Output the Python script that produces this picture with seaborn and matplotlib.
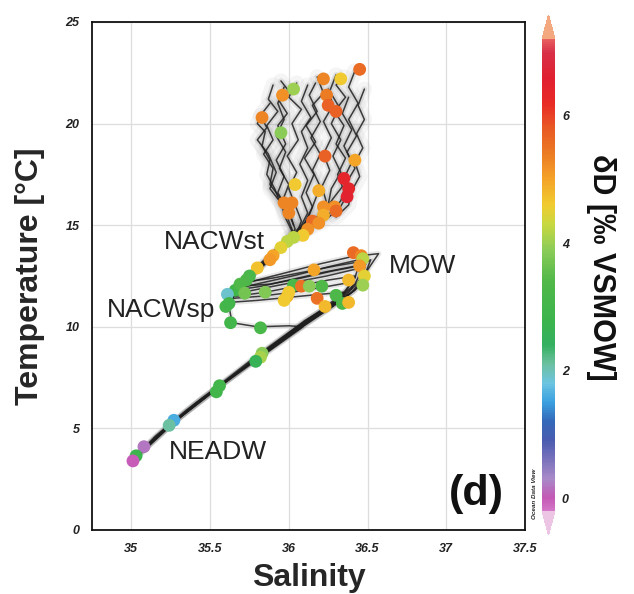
import numpy as np
import pandas as pd
import matplotlib
matplotlib.use("Agg")
import matplotlib.pyplot as plt
import seaborn as sns
from matplotlib.colors import LinearSegmentedColormap, Normalize
from matplotlib.cm import ScalarMappable

# ---------------- data ----------------
# CTD profiles (salinity, temperature), surface -> bottom
prof_01 = [(35.90,21.9),(35.87,21.2),(35.93,20.6),(35.86,19.9),(35.90,19.2),(35.84,18.5),(35.90,17.8),(35.88,17.0),
           (35.95,16.3),(35.97,15.5),(36.02,14.7),(35.95,14.0),(35.85,13.2),(35.75,12.4),(35.66,11.7),(35.62,11.0),
           (35.64,10.2),(35.80,10.0),(36.00,10.05),(36.09,10.0),(35.82,8.5),(35.55,7.0),(35.27,5.3),(35.02,3.5)]
prof_02 = [(36.05,22.0),(36.00,21.3),(36.08,20.7),(36.02,20.0),(36.06,19.2),(35.99,18.4),(36.05,17.6),(36.00,16.8),
           (36.04,16.0),(36.08,15.2),(36.05,14.6),(35.98,14.0),(35.88,13.3),(35.78,12.6),(35.70,12.1),(35.80,12.3),
           (36.00,12.7),(36.20,13.1),(36.40,13.45),(36.57,13.6),(36.50,12.8),(36.45,12.0),(36.35,11.4),(36.20,10.6),
           (36.05,9.8),(35.85,8.7),(35.60,7.3),(35.35,5.9),(35.15,4.6),(35.02,3.5)]
prof_03 = [(36.18,22.3),(36.22,21.5),(36.15,20.9),(36.20,20.1),(36.14,19.3),(36.20,18.5),(36.15,17.7),(36.20,16.9),
           (36.16,16.1),(36.12,15.3),(36.06,14.7),(35.97,14.1),(35.86,13.3),(35.76,12.5),(35.68,11.9),(35.85,12.2),
           (36.05,12.55),(36.25,12.95),(36.50,13.4),(36.47,12.6),(36.42,11.8),(36.28,11.0),(36.10,10.1),(35.85,8.8),
           (35.58,7.2),(35.30,5.5),(35.05,3.7)]
prof_04 = [(36.30,22.4),(36.26,21.6),(36.32,20.8),(36.27,20.0),(36.33,19.2),(36.28,18.4),(36.33,17.6),(36.27,16.8),
           (36.25,16.0),(36.18,15.3),(36.10,14.8),(36.00,14.3),(35.90,13.6),(35.80,12.8),(35.72,12.2),(35.90,12.4),
           (36.10,12.7),(36.30,13.0),(36.45,13.2),(36.42,12.4),(36.35,11.7),(36.22,10.9),(36.05,10.0),(35.80,8.6),
           (35.52,6.9),(35.25,5.2),(35.00,3.4)]
prof_05 = [(36.42,22.6),(36.38,21.8),(36.44,21.0),(36.38,20.2),(36.43,19.4),(36.37,18.6),(36.42,17.8),(36.36,17.0),
           (36.33,16.2),(36.25,15.5),(36.15,15.0),(36.05,14.5),(35.95,13.9),(35.83,13.0),(35.74,12.3),(35.66,11.5),
           (35.85,11.7),(36.05,12.0),(36.25,12.3),(36.42,12.5),(36.40,11.9),(36.30,11.2),(36.15,10.5),(35.95,9.4),
           (35.70,7.9),(35.45,6.5),(35.20,4.9),(35.03,3.6)]
prof_06 = [(35.82,20.4),(35.86,19.8),(35.80,19.2),(35.87,18.5),(35.92,17.6),(35.88,16.8),(35.96,16.0),(36.00,15.2),
           (36.03,14.6),(35.95,13.9),(35.84,13.1),(35.73,12.3),(35.64,11.4),(35.82,11.5),(36.02,11.7),(36.22,11.95),
           (36.40,12.2),(36.35,11.6),(36.25,11.0),(36.10,10.3),(35.90,9.1),(35.65,7.6),(35.40,6.2),(35.12,4.3),(35.00,3.5)]
prof_07 = [(36.12,21.9),(36.08,21.1),(36.14,20.3),(36.08,19.6),(36.12,18.8),(36.07,18.0),(36.12,17.2),(36.08,16.4),
           (36.12,15.6),(36.08,15.0),(36.02,14.5),(35.93,13.8),(35.82,13.0),(35.72,12.3),(35.66,11.8),(35.83,12.0),
           (36.03,12.35),(36.23,12.7),(36.43,13.0),(36.48,13.5),(36.47,12.9),(36.42,12.1),(36.30,11.3),(36.12,10.3),
           (35.88,9.0),(35.62,7.4),(35.35,5.8),(35.10,4.2),(35.00,3.5)]
prof_08 = [(36.38,21.3),(36.34,20.5),(36.40,19.7),(36.35,18.9),(36.40,18.1),(36.35,17.3),(36.38,16.6),(36.32,15.8),
           (36.22,15.2),(36.12,14.8),(36.03,14.4),(35.93,13.7),(35.82,12.9),(35.70,12.0),(35.62,11.2),(35.80,11.3),
           (36.00,11.45),(36.20,11.6),(36.35,11.7),(36.30,11.2),(36.18,10.6),(36.00,9.6),(35.75,8.2),(35.50,6.7),
           (35.22,5.0),(35.00,3.5)]
prof_09 = [(35.97,21.8),(35.93,21.0),(35.97,20.2),(35.92,19.4),(35.98,18.6),(35.94,17.8),(36.00,17.0),(35.96,16.2),
           (36.01,15.5),(36.04,14.8),(35.98,14.1),(35.87,13.4),(35.77,12.7),(35.69,12.0),(35.88,12.1),(36.08,12.4),
           (36.28,12.75),(36.45,13.0),(36.52,13.3),(36.48,12.5),(36.40,11.7),(36.25,10.9),(36.08,10.0),(35.82,8.6),
           (35.56,7.1),(35.28,5.4),(35.02,3.5)]
prof_10 = [(36.25,21.7),(36.28,20.9),(36.22,20.1),(36.27,19.3),(36.22,18.5),(36.26,17.7),(36.21,16.9),(36.24,16.1),
           (36.18,15.4),(36.10,14.9),(36.00,14.4),(35.90,13.7),(35.79,12.9),(35.71,12.3),(35.64,11.6),(35.84,11.9),
           (36.04,12.2),(36.24,12.5),(36.46,12.9),(36.45,12.3),(36.37,11.6),(36.23,10.8),(36.06,9.9),(35.82,8.6),
           (35.55,7.0),(35.27,5.3),(35.00,3.4)]
# upper-layer only profiles
prof_11 = [(35.95,22.1),(36.00,21.6),(35.94,21.1),(35.99,20.5),(35.93,19.9),(35.98,19.0),(35.92,18.2),(35.97,17.4),
           (35.93,16.6),(35.99,15.8),(36.03,15.0)]
prof_12 = [(36.35,22.3),(36.30,21.9),(36.36,21.3),(36.29,20.6),(36.35,19.9),(36.30,19.0),(36.36,18.3),(36.31,17.5),
           (36.34,16.9),(36.28,16.3),(36.22,15.6),(36.14,15.1)]
prof_13 = [(35.88,21.0),(35.84,20.6),(35.80,20.0),(35.85,19.6),(35.83,18.9),(35.88,18.2),(35.86,17.5),(35.91,16.8),
           (35.94,16.2),(35.98,15.6)]
prof_14 = [(36.48,21.7),(36.44,20.9),(36.48,20.2),(36.43,19.5),(36.47,18.8),(36.42,18.1),(36.45,17.4),(36.40,16.7),
           (36.38,16.0),(36.30,15.4)]
prof_15 = [(36.17,22.0),(36.13,21.4),(36.18,20.6),(36.11,19.9),(36.17,19.1),(36.10,18.3),(36.16,17.5),(36.11,16.6),
           (36.15,15.9),(36.10,15.1),(36.05,14.6)]

# bottle samples: salinity, temperature, deltaD
pt_sal = [36.45,36.22,36.33,36.03,35.96,36.24,36.25,36.30,35.83,35.95,36.23,36.42,36.35,36.38,36.37,36.04,36.19,
          35.97,36.02,36.00,36.22,36.29,36.30,36.22,36.15,36.19,36.12,36.09,36.03,35.99,35.95,35.90,35.88,35.80,
          35.75,35.73,35.66,
          36.41,36.46,36.47,36.45,36.16,36.38,36.48,36.47,
          35.69,35.61,35.72,35.85,36.03,36.08,36.13,36.21,35.99,36.18,36.23,36.30,36.34,36.38,35.60,35.62,35.63,
          35.82,36.00,35.97,
          35.83,35.82,35.79,35.56,35.54,35.27,35.24,35.08,35.03,35.01]
pt_temp = [22.67,22.2,22.2,21.7,21.4,21.4,20.9,20.6,20.3,19.55,18.4,18.2,17.3,16.8,16.4,17.0,16.7,
           16.1,16.1,15.6,15.9,15.9,15.7,15.5,15.2,15.1,14.8,14.5,14.4,14.2,13.9,13.5,13.3,12.9,
           12.5,12.3,11.8,
           13.65,13.5,13.35,13.0,12.8,12.3,12.5,12.05,
           12.1,11.6,11.65,11.7,12.05,12.0,12.0,12.0,11.5,11.4,11.0,11.55,11.15,11.2,11.0,11.15,10.2,
           9.95,11.7,11.3,
           8.7,8.5,8.3,7.1,6.8,5.4,5.15,4.1,3.65,3.4]
pt_dD = [5.6,5.3,4.6,4.0,5.2,5.4,5.7,5.7,5.3,3.9,5.7,5.0,6.4,6.4,6.5,4.6,4.9,
         5.3,5.3,5.3,5.2,5.2,5.6,4.9,5.6,5.2,5.2,4.6,4.2,4.2,4.5,5.0,5.1,4.7,
         3.2,3.3,3.0,
         5.6,5.3,4.2,5.1,5.0,4.8,4.5,4.0,
         3.4,1.9,3.7,3.8,3.2,5.5,3.9,3.4,4.8,5.5,4.8,3.3,3.3,4.8,3.1,3.0,3.0,
         3.2,4.6,4.6,
         3.9,4.1,2.6,3.0,3.0,1.6,2.1,0.2,2.8,0.0]

x_ticks = [35, 35.5, 36, 36.5, 37, 37.5]
x_labels = ["35", "35.5", "36", "36.5", "37", "37.5"]
y_ticks = [0, 5, 10, 15, 20, 25]
cb_ticks = [0, 2, 4, 6]

# ---------------- style ----------------
sns.set_style("white")
plt.rcParams['font.family'] = ['Liberation Sans', 'DejaVu Sans']

vmin, vmax = -0.2, 7.2
stops = [(-0.2, "#d478c8"), (0.0, "#c458b4"), (0.3, "#a88ac8"), (0.6, "#7a72bc"), (0.9, "#4a5cb0"),
         (1.2, "#3468b8"), (1.5, "#3aa0e0"), (1.8, "#6cc4e0"), (2.1, "#6cc0a0"), (2.4, "#34b060"),
         (2.8, "#3cb44c"), (3.4, "#50b848"), (3.9, "#8ccc58"), (4.3, "#c8d840"), (4.6, "#f0cc30"),
         (5.0, "#f4a428"), (5.4, "#ec7c24"), (5.8, "#e85a24"), (6.2, "#e82a26"), (6.6, "#e02030"),
         (7.0, "#d83048"), (7.2, "#e86060")]
cmap = LinearSegmentedColormap.from_list(
    "odv", [((v - vmin) / (vmax - vmin), c) for v, c in stops])
cmap.set_over("#f4a880")
cmap.set_under("#ecc4e4")
norm = Normalize(vmin=vmin, vmax=vmax)

W, H = 634, 594
fig = plt.figure(figsize=(W / 100, H / 100), dpi=100)
ax = fig.add_axes([92 / W, 1 - 530 / H, 433 / W, 508 / H])

profiles = [prof_01, prof_02, prof_03, prof_04, prof_05, prof_06, prof_07, prof_08, prof_09, prof_10,
            prof_11, prof_12, prof_13, prof_14, prof_15]
rows = []
for i, p in enumerate(profiles):
    for k, (s, t) in enumerate(p):
        rows.append({"prof": i, "k": k, "S": s, "T": t})
df = pd.DataFrame(rows)

# faint halo for upper mixed-layer scatter
up = df[df["T"] > 14.3]
sns.lineplot(data=up, x="S", y="T", units="prof", estimator=None, sort=False,
             color="#a0a0a0", lw=11, alpha=0.10, ax=ax, zorder=1)
sns.lineplot(data=df, x="S", y="T", units="prof", estimator=None, sort=False,
             color="#a0a0a0", lw=4, alpha=0.25, ax=ax, zorder=1)
sns.lineplot(data=df, x="S", y="T", units="prof", estimator=None, sort=False,
             color="#1e1e1e", lw=1.1, alpha=0.85, ax=ax, zorder=2)

sns.scatterplot(x=pt_sal, y=pt_temp, hue=pt_dD, palette=cmap, hue_norm=norm,
                s=85, edgecolor="none", legend=False, ax=ax, zorder=3)

ax.set_xlim(34.75, 37.5)
ax.set_ylim(0, 25)
ax.set_xticks(x_ticks)
ax.set_xticklabels(x_labels)
ax.set_yticks(y_ticks)
ax.grid(True, color="#dddddd", lw=0.9, zorder=0)
ax.set_axisbelow(True)
for sp in ax.spines.values():
    sp.set_visible(True)
    sp.set_color("#111111")
    sp.set_linewidth(1.3)
ax.tick_params(axis="both", which="major", length=4, width=0.8, color="#888888",
               labelsize=9, labelcolor="#222222", pad=5)
for lab in ax.get_xticklabels() + ax.get_yticklabels():
    lab.set_fontweight("bold")
    lab.set_fontstyle("italic")

ax.set_xlabel("Salinity", fontsize=23, fontweight="bold", labelpad=6)
ax.set_ylabel("Temperature [°C]", fontsize=23, fontweight="bold", labelpad=15)

txt = dict(fontsize=19, color="#222222", ha="center", va="center", zorder=4)
ax.text(35.53, 14.17, "NACWst", **txt)
ax.text(36.85, 13.0, "MOW", **txt)
ax.text(35.19, 10.83, "NACWsp", **txt)
ax.text(35.55, 3.84, "NEADW", **txt)
ax.text(37.19, 1.75, "(d)", fontsize=31, fontweight="bold", color="#111111",
        ha="center", va="center", zorder=4)

fig.text(535 / W, 1 - 494 / H, "Ocean Data View", rotation=90, fontsize=4.5,
         fontweight="bold", fontstyle="italic", ha="center", va="center", color="#222222")

# colorbar
cax = fig.add_axes([542 / W, 1 - 535 / H, 13 / W, 520 / H])
sm = ScalarMappable(norm=norm, cmap=cmap)
cb = fig.colorbar(sm, cax=cax, extend="both", extendfrac=0.05)
cb.outline.set_visible(False)
cb.set_ticks(cb_ticks)
cb.ax.tick_params(length=0, labelsize=9, pad=5, labelcolor="#222222")
for lab in cb.ax.get_yticklabels():
    lab.set_fontweight("bold")
    lab.set_fontstyle("italic")
fig.text(601 / W, 1 - 267 / H, "δD [‰ VSMOW]", rotation=-90, fontsize=22,
         fontweight="bold", ha="center", va="center", color="#111111")

fig.savefig("out.png", dpi=100)
